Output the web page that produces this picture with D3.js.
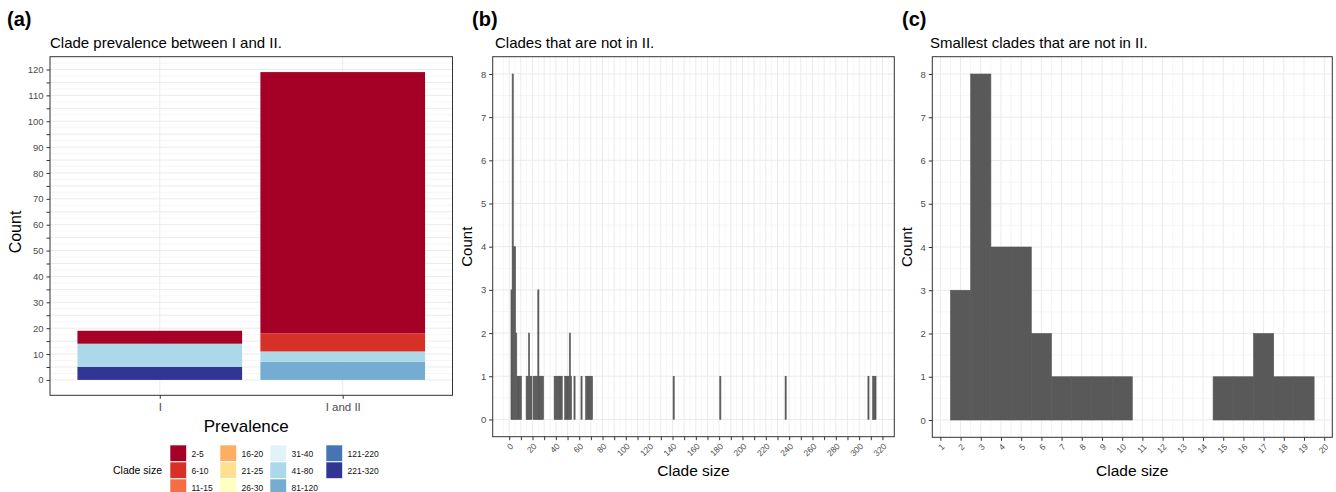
<!DOCTYPE html>
<html>
<head>
<meta charset="utf-8">
<script src="https://cdn.jsdelivr.net/npm/d3@7"></script>
<style>
  html, body { margin: 0; padding: 0; background: #fff; }
  svg { display: block; font-family: "Liberation Sans", Arial, sans-serif; }
</style>
</head>
<body>
<svg id="chart" width="1336" height="492"></svg>
<script>
// ---------------- DATA ----------------
const prevalenceCats = ["I", "I and II"];
const sizeClasses = ["2-5", "6-10", "11-15", "16-20", "21-25", "26-30", "31-40", "41-80", "81-120", "121-220", "221-320"];
const classColors = ["#a50026", "#d73027", "#f46d43", "#fdae61", "#fee090", "#ffffbf", "#e0f3f8", "#abd9e9", "#74add1", "#4575b4", "#313695"];
// counts per size class, per prevalence category
const countsI      = [5, 0, 0, 0, 0, 0, 0, 9, 0, 0, 5];
const countsIandII = [101, 7, 0, 0, 0, 0, 0, 4, 7, 0, 0];

// clades that are not in II: clade size -> count
const cladeSizes  = [2, 3, 4, 5, 6, 7, 8, 9, 10, 15, 16, 17, 18, 19,
                     21, 22, 23, 24, 25, 26, 27, 28, 29,
                     39, 40, 41, 42, 43, 44, 45,
                     48, 49, 50, 51, 52, 53, 56, 62,
                     66, 67, 68, 69, 70, 71,
                     141, 181, 237, 308, 312, 313, 314];
const cladeCounts = [3, 8, 4, 4, 2, 1, 1, 1, 1, 1, 1, 2, 1, 1,
                     1, 1, 1, 1, 3, 1, 1, 1, 1,
                     1, 1, 1, 1, 1, 1, 1,
                     1, 1, 1, 1, 2, 1, 1, 1,
                     1, 1, 1, 1, 1, 1,
                     1, 1, 1, 1, 1, 1, 1];

const yTicksA = d3.range(0, 121, 10);
const xTicksB = d3.range(0, 321, 20);
const xTicksC = d3.range(1, 21, 1);
const yTicksBC = d3.range(0, 9, 1);

// ---------------- HELPERS ----------------
const svg = d3.select("#chart");
const FONT = '"Liberation Sans", Arial, sans-serif';
const GRID_MAJOR = "#ebebeb", GRID_MINOR = "#f4f4f4";
const AXIS_TXT = "#4d4d4d";
const BAR = "#595959";

function hGrid(g, y, vals, x0, x1, color, w) {
  g.selectAll(null).data(vals).enter().append("line")
    .attr("x1", x0).attr("x2", x1)
    .attr("y1", d => y(d)).attr("y2", d => y(d))
    .attr("stroke", color).attr("stroke-width", w);
}
function vGrid(g, x, vals, y0, y1, color, w) {
  g.selectAll(null).data(vals).enter().append("line")
    .attr("y1", y0).attr("y2", y1)
    .attr("x1", d => x(d)).attr("x2", d => x(d))
    .attr("stroke", color).attr("stroke-width", w);
}
function frame(g, x0, y0, x1, y1) {
  g.append("rect").attr("x", x0).attr("y", y0)
    .attr("width", x1 - x0).attr("height", y1 - y0)
    .attr("fill", "none").attr("stroke", "#333").attr("stroke-width", 1);
}
function styleAxis(sel, fs) {
  sel.select(".domain").remove();
  sel.selectAll(".tick line").attr("stroke", "#333");
  sel.selectAll(".tick text").attr("fill", AXIS_TXT).attr("font-size", fs).attr("font-family", FONT);
}
function label(txt, x, y, opts = {}) {
  const t = svg.append("text").text(txt)
    .attr("x", x).attr("y", y)
    .attr("font-family", FONT)
    .attr("font-size", opts.size || 15)
    .attr("fill", opts.fill || "#000")
    .attr("font-weight", opts.weight || "normal")
    .attr("text-anchor", opts.anchor || "start");
  if (opts.rotate) t.attr("transform", `rotate(${opts.rotate},${x},${y})`);
  return t;
}

// ---------------- PANEL A ----------------
(function panelA() {
  const L = 50, R = 452.5, T = 56.7, B = 395.3;
  const g = svg.append("g");
  const allTotals = [d3.sum(countsI), d3.sum(countsIandII)];
  const ymax = d3.max(allTotals);
  const pad = ymax * 0.05;
  const y = d3.scaleLinear().domain([-pad, ymax + pad]).range([B, T]);
  const x = d3.scaleLinear().domain([0.4, 2.6]).range([L, R]);

  hGrid(g, y, d3.range(2.5, 125, 5), L, R, GRID_MINOR, 0.8);
  hGrid(g, y, d3.range(0, 125, 5), L, R, GRID_MAJOR, 1);
  vGrid(g, x, [1, 2], T, B, GRID_MAJOR, 1);

  const series = [countsI, countsIandII];
  series.forEach((counts, ci) => {
    // stack: first class on top -> stack from last class upward
    let base = 0;
    for (let k = sizeClasses.length - 1; k >= 0; k--) {
      const v = counts[k];
      if (v > 0) {
        g.append("rect")
          .attr("x", x(ci + 1 - 0.45)).attr("width", x(ci + 1 + 0.45) - x(ci + 1 - 0.45))
          .attr("y", y(base + v)).attr("height", y(base) - y(base + v))
          .attr("fill", classColors[k]);
      }
      base += v;
    }
  });
  frame(g, L, T, R, B);

  const ya = g.append("g").attr("transform", `translate(${L},0)`)
    .call(d3.axisLeft(y).tickValues(d3.range(0, 125, 5)).tickSize(3.5).tickPadding(3)
      .tickFormat(d => d % 10 === 0 ? d : ""));
  styleAxis(ya, 9.5);
  const xa = g.append("g").attr("transform", `translate(0,${B})`)
    .call(d3.axisBottom(x).tickValues([1, 2]).tickSize(3.5).tickPadding(4)
      .tickFormat(d => prevalenceCats[d - 1]));
  styleAxis(xa, 11.5);

  label("(a)", 7, 26, { size: 20, weight: "bold" });
  label("Clade prevalence between I and II.", 50, 48, { size: 15 });
  label("Prevalence", (L + R) / 2 - 5, 432, { size: 17, anchor: "middle" });
  label("Count", 21, (T + B) / 2 + 6, { size: 16, anchor: "middle", rotate: -90 });

  // legend
  const colX = [170, 220, 270, 326];
  const rowY = [445, 462, 479];
  label("Clade size", 113, 473.5, { size: 10.5 });
  sizeClasses.forEach((s, i) => {
    const c = Math.floor(i / 3), r = i % 3;
    svg.append("rect").attr("x", colX[c]).attr("y", rowY[r])
      .attr("width", 16.5).attr("height", 16.5).attr("fill", classColors[i])
      .attr("stroke", "#fff").attr("stroke-width", 0.6);
    label(s, colX[c] + 21.5, rowY[r] + 11.5, { size: 8.5, fill: "#111" });
  });
})();

// ---------------- HISTOGRAM PANELS ----------------
function histPanel(opts) {
  const { L, R, T, B, sizes, counts, xTicks, xMajor, xMinor, tag, tagX, title, titleX, ylabX } = opts;
  const g = svg.append("g");
  const lo = d3.min(sizes) - 0.5, hi = d3.max(sizes) + 0.5;
  const xpad = (hi - lo) * 0.05;
  const x = d3.scaleLinear().domain([lo - xpad, hi + xpad]).range([L, R]);
  const ymax = d3.max(counts);
  const y = d3.scaleLinear().domain([-ymax * 0.05, ymax * 1.05]).range([B, T]);

  hGrid(g, y, d3.range(0.5, ymax + 0.4, 1), L, R, GRID_MINOR, 0.8);
  vGrid(g, x, xMinor.filter(v => x(v) > L && x(v) < R), T, B, GRID_MINOR, 0.8);
  hGrid(g, y, yTicksBC, L, R, GRID_MAJOR, 1);
  vGrid(g, x, xMajor.filter(v => x(v) > L && x(v) < R), T, B, GRID_MAJOR, 1);

  g.selectAll(null).data(sizes.map((s, i) => ({ s, c: counts[i] }))).enter().append("rect")
    .attr("x", d => x(d.s - 0.5)).attr("width", d => x(d.s + 0.5) - x(d.s - 0.5))
    .attr("y", d => y(d.c)).attr("height", d => y(0) - y(d.c))
    .attr("fill", BAR).attr("stroke", BAR).attr("stroke-width", 0.6);
  frame(g, L, T, R, B);

  const ya = g.append("g").attr("transform", `translate(${L},0)`)
    .call(d3.axisLeft(y).tickValues(yTicksBC).tickSize(3.5).tickPadding(3));
  styleAxis(ya, 9.5);
  const xa = g.append("g").attr("transform", `translate(0,${B})`)
    .call(d3.axisBottom(x).tickValues(xMajor).tickSize(3.5).tickFormat(""));
  styleAxis(xa, 8);
  g.selectAll(null).data(xTicks).enter().append("text")
    .text(d => d)
    .attr("transform", d => `translate(${x(d) + 2.5},${B + 8}) rotate(-45)`)
    .attr("text-anchor", "end").attr("dy", "0.35em")
    .attr("font-size", 8.5).attr("font-family", FONT).attr("fill", AXIS_TXT);

  label(tag, tagX, 26, { size: 20, weight: "bold" });
  label(title, titleX, 48, { size: 15 });
  label("Clade size", (L + R) / 2, 476, { size: 15.5, anchor: "middle" });
  label("Count", ylabX, (T + B) / 2, { size: 15, anchor: "middle", rotate: -90 });
}

histPanel({
  L: 492.7, R: 894.3, T: 56.7, B: 436.7,
  sizes: cladeSizes, counts: cladeCounts,
  xTicks: xTicksB, xMajor: d3.range(0, 321, 10), xMinor: d3.range(-5, 331, 10),
  tag: "(b)", tagX: 472, title: "Clades that are not in II.", titleX: 495, ylabX: 472
});

const smallSizes = cladeSizes.filter(s => s <= 20);
const smallCounts = cladeCounts.filter((c, i) => cladeSizes[i] <= 20);
histPanel({
  L: 932.3, R: 1332.3, T: 56.7, B: 437.3,
  sizes: smallSizes, counts: smallCounts,
  xTicks: xTicksC, xMajor: xTicksC, xMinor: d3.range(0.5, 21, 1),
  tag: "(c)", tagX: 902, title: "Smallest clades that are not in II.", titleX: 930, ylabX: 912
});
</script>
</body>
</html>
